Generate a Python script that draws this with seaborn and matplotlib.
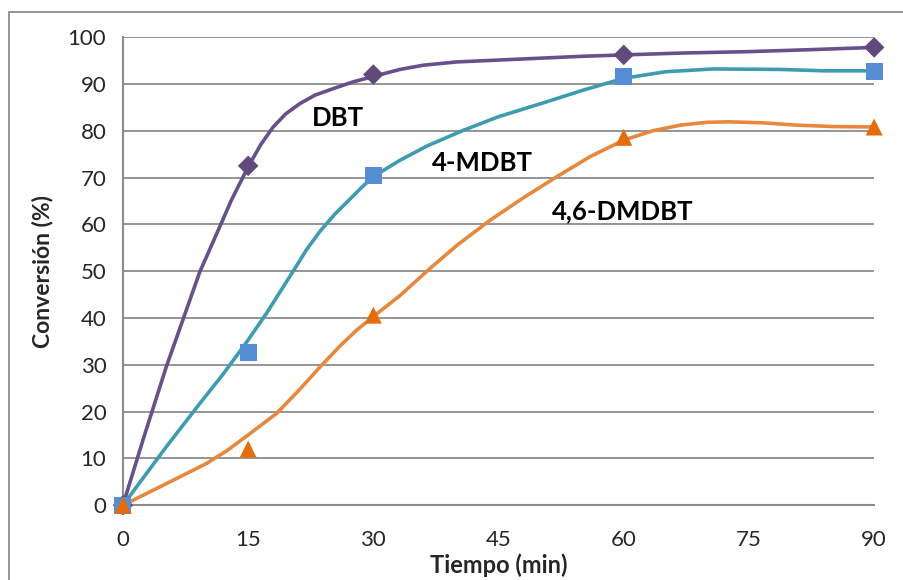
import matplotlib
matplotlib.use("Agg")
import matplotlib.pyplot as plt
import pandas as pd
import seaborn as sns
from matplotlib.patches import Rectangle

# ── Data ─────────────────────────────────────────────────────────────────────
tiempo = [0, 15, 30, 60, 90]
dbt = [0, 72.5, 92.0, 96.2, 97.8]
mdbt = [0, 32.6, 70.4, 91.5, 92.6]
dmdbt = [0, 12.0, 40.6, 78.6, 80.8]

# smoothed curves as drawn in the figure
dbt_curve_x = [0, 2.5, 5.2, 9.2, 11.6, 13.0, 15, 16.5, 18, 19.5, 21.2, 23, 25.2,
               27.5, 30, 33.2, 36, 40, 45, 50, 55, 60, 67, 75, 82, 90]
dbt_curve_y = [0, 14.5, 29.6, 49.8, 59.5, 65.2, 72.3, 77.0, 80.8, 83.6, 85.8, 87.6, 89.0,
               90.4, 91.6, 93.1, 94.0, 94.7, 95.1, 95.5, 95.9, 96.2, 96.6, 96.9, 97.3, 97.8]
mdbt_curve_x = [0, 2.5, 5.2, 9.2, 12, 15, 17.2, 20.4, 22, 23.6, 25.4, 27.2, 28.6, 30,
                33.2, 36.5, 40.8, 45, 50.8, 55, 60, 65, 70.7, 78.7, 84, 90]
mdbt_curve_y = [0, 6.0, 12.5, 21.7, 28.0, 35.3, 41.0, 50.0, 54.6, 58.5, 62.2, 65.4, 67.9, 70.2,
                73.7, 76.8, 80.1, 83.0, 86.2, 88.6, 91.2, 92.6, 93.2, 93.1, 92.8, 92.8]
dmdbt_curve_x = [0, 2.5, 5.2, 10, 12.5, 15, 18.4, 21, 23.6, 26, 28, 30, 33.2, 36.8, 40,
                 44, 48, 52, 56, 60, 63.5, 66.8, 70, 72.7, 76.5, 80.7, 85, 90]
dmdbt_curve_y = [0, 2.2, 4.6, 8.9, 11.7, 15.0, 19.6, 24.4, 29.5, 34.0, 37.4, 40.3, 44.8, 50.6, 55.5,
                 60.9, 65.7, 70.2, 74.5, 78.0, 80.0, 81.2, 81.8, 81.9, 81.7, 81.2, 80.9, 80.8]

series = ["DBT", "4-MDBT", "4,6-DMDBT"]
line_colors = ["#67508C", "#3E9BB0", "#E6883D"]
marker_colors = ["#604A7B", "#558ED5", "#E46C0A"]
markers = ["D", "s", "^"]
label_pos = [(25.8, 82.7), (43.1, 73.0), (59.9, 62.8)]
x_ticks = [0, 15, 30, 45, 60, 75, 90]
y_ticks = list(range(0, 101, 10))

points = pd.DataFrame({
    "t": tiempo * 3,
    "conv": dbt + mdbt + dmdbt,
    "serie": sum([[s] * len(tiempo) for s in series], []),
})
curves = pd.concat([
    pd.DataFrame({"t": cx, "conv": cy, "serie": s})
    for s, cx, cy in zip(series,
                         [dbt_curve_x, mdbt_curve_x, dmdbt_curve_x],
                         [dbt_curve_y, mdbt_curve_y, dmdbt_curve_y])
])

sns.set_style("white")
plt.rcParams["font.family"] = ["Lato", "DejaVu Sans"]

fig = plt.figure(figsize=(9.04, 5.8), dpi=100)
ax = fig.add_axes([0.136, 0.129, 0.831, 0.807])

for y in y_ticks:
    ax.axhline(y, color="#8c8c8c", lw=1.3, zorder=0)

sns.lineplot(data=curves, x="t", y="conv", hue="serie", hue_order=series,
             palette=line_colors, lw=2.6, sort=False, estimator=None,
             legend=False, ax=ax, zorder=2)
for line in ax.lines:
    line.set_solid_joinstyle("round")
for s, c, m in zip(series, marker_colors, markers):
    sub = points[points["serie"] == s]
    sns.scatterplot(data=sub, x="t", y="conv", color=c, marker=m,
                    s=150 if m != "D" else 110, edgecolor="none",
                    legend=False, ax=ax, zorder=3)

for s, (lx, ly) in zip(series, label_pos):
    ax.text(lx, ly, s, fontsize=18.5, fontweight="bold", ha="center",
            va="center", color="black")

ax.set_xlim(0, 90)
ax.set_ylim(0, 100)
ax.set_xticks(x_ticks)
ax.set_yticks(y_ticks)
ax.tick_params(axis="both", labelsize=16, length=6, width=1.3,
               color="#8c8c8c", direction="out")
ax.tick_params(axis="x", pad=12)
ax.tick_params(axis="y", pad=6)
for side in ["top", "right"]:
    ax.spines[side].set_visible(False)
for side in ["left", "bottom"]:
    ax.spines[side].set_color("#8c8c8c")
    ax.spines[side].set_linewidth(1.5)
ax.set_xlabel("Tiempo (min)", fontsize=17, fontweight="bold", labelpad=2)
ax.set_ylabel("Conversión (%)", fontsize=16.5, fontweight="bold", labelpad=10)

for c in ax.collections:
    c.set_clip_on(False)

fig.add_artist(Rectangle((0.0095, -0.1), 1.2, 1.0795, transform=fig.transFigure,
                         fill=False, edgecolor="#8c8c8c", lw=1.3))

fig.savefig("out.png", dpi=100)
